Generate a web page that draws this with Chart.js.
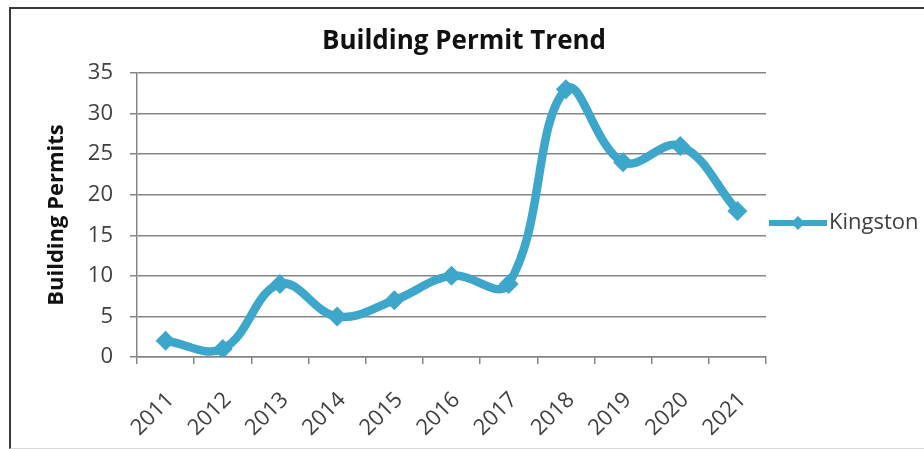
<!DOCTYPE html>
<html>
<head>
<meta charset="utf-8">
<script src="https://cdn.jsdelivr.net/npm/chart.js"></script>
<style>
    html, body { margin: 0; padding: 0; background: #fff; overflow: hidden; }
    .frame {
        position: absolute; left: 9px; top: 7px; width: 940px; height: 439px;
        border-top: 2px solid #3a3a3a; border-left: 2px solid #3a3a3a; border-bottom: 1px solid #d8d8d8;
    }
    .chart-box { position: absolute; left: 0; top: 0; width: 924px; height: 449px; }
</style>
</head>
<body>
<div class="frame"></div>
<div class="chart-box">
    <canvas id="permitChart" width="924" height="449"></canvas>
</div>

<script>
    const years = ['2011', '2012', '2013', '2014', '2015', '2016', '2017', '2018', '2019', '2020', '2021'];
    const kingston = [2, 1, 9, 5, 7, 10, 9, 33, 24, 26, 18];
    const seriesName = 'Kingston';
    const chartTitle = 'Building Permit Trend';
    const yTicks = [0, 5, 10, 15, 20, 25, 30, 35];

    const lineColor = '#3da7cb';
    const gridColor = '#858585';
    const textColor = '#404040';

    // title + legend drawn by hand so they sit where the original ones are
    const titleAndLegend = {
        id: 'titleAndLegend',
        afterDraw(chart) {
            const ctx = chart.ctx;
            ctx.save();
            ctx.fillStyle = '#111';
            ctx.font = 'bold 26px "Open Sans"';
            ctx.textAlign = 'center';
            ctx.textBaseline = 'middle';
            ctx.fillText(chartTitle, 464, 42);

            const y = 223;
            ctx.strokeStyle = lineColor;
            ctx.lineWidth = 6;
            ctx.beginPath();
            ctx.moveTo(769, y);
            ctx.lineTo(827, y);
            ctx.stroke();
            ctx.fillStyle = lineColor;
            ctx.beginPath();
            ctx.moveTo(798, y - 7);
            ctx.lineTo(805, y);
            ctx.lineTo(798, y + 7);
            ctx.lineTo(791, y);
            ctx.closePath();
            ctx.fill();
            ctx.fillStyle = textColor;
            ctx.font = '22px "Open Sans"';
            ctx.textAlign = 'left';
            ctx.fillText(seriesName, 829, y);
            ctx.restore();
        }
    };

    const chart = new Chart(document.getElementById('permitChart'), {
        type: 'line',
        data: {
            labels: years,
            datasets: [{
                label: seriesName,
                data: kingston,
                borderColor: lineColor,
                backgroundColor: lineColor,
                borderWidth: 8.5,
                tension: 0.4,
                pointStyle: 'rectRot',
                pointRadius: 10,
                pointBorderWidth: 0,
                pointBackgroundColor: lineColor
            }]
        },
        plugins: [titleAndLegend],
        options: {
            responsive: false,
            animation: false,
            layout: {
                padding: { left: 0, right: 158, top: 73, bottom: 0 }
            },
            plugins: {
                legend: { display: false },
                tooltip: { enabled: false },
                title: { display: false }
            },
            scales: {
                x: {
                    offset: true,
                    grid: {
                        offset: true,
                        drawOnChartArea: false,
                        color: gridColor,
                        tickLength: 7,
                        lineWidth: 1.5
                    },
                    border: { color: gridColor, width: 1.5 },
                    ticks: {
                        color: textColor,
                        font: { family: 'Open Sans', size: 22 },
                        autoSkip: false,
                        minRotation: 45,
                        maxRotation: 45,
                        labelOffset: 5,
                        padding: 23
                    },
                    afterFit(scale) { scale.height = 92; }
                },
                y: {
                    min: 0,
                    max: 35,
                    afterBuildTicks(scale) { scale.ticks = yTicks.map(v => ({ value: v })); },
                    grid: {
                        color: gridColor,
                        lineWidth: 1.5,
                        tickLength: 7
                    },
                    border: { color: gridColor, width: 1.5 },
                    ticks: {
                        color: textColor,
                        font: { family: 'Open Sans', size: 22 },
                        padding: 17
                    },
                    title: {
                        display: true,
                        text: 'Building Permits',
                        color: '#111',
                        font: { family: 'Open Sans', size: 22, weight: 'bold' },
                        padding: { top: 44, bottom: 0 }
                    },
                    afterFit(scale) { scale.width = 137; }
                }
            }
        }
    });
</script>
</body>
</html>
